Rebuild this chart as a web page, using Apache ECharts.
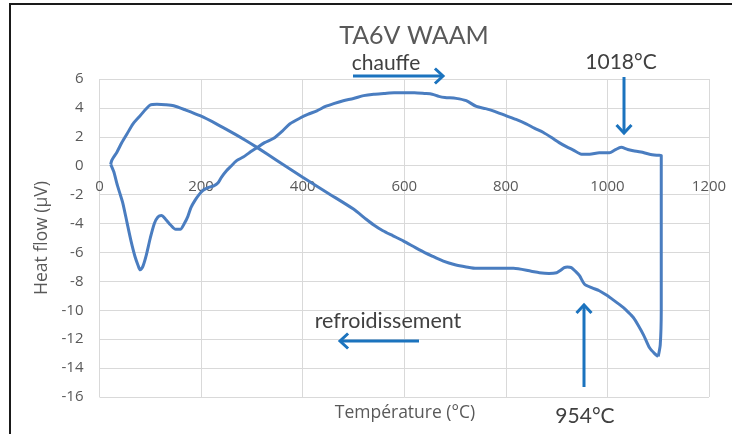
<!DOCTYPE html>
<html>
<head>
<meta charset="utf-8">
<script src="https://cdn.jsdelivr.net/npm/echarts@6/dist/echarts.min.js"></script>
<style>
  html, body { margin: 0; padding: 0; background: #fff; }
  #chart { width: 732px; height: 434px; }
</style>
</head>
<body>
<div id="chart"></div>
<script>
// DSC loop of a TA6V WAAM sample: heating run then cooling run
const heatT = [22, 28, 34, 40, 46, 54, 62, 70, 76, 80, 85, 92, 100, 108, 115, 122, 130, 140, 150, 159,
  167, 174, 180, 188, 196, 204, 215, 225, 233, 240, 250, 257, 270, 283, 295, 310, 325, 343, 360, 375,
  395, 410, 428, 445, 461, 480, 500, 520, 540, 560, 580, 600, 620, 640, 655, 668, 680, 702, 722, 742,
  760, 775, 801, 820, 840, 856, 874, 890, 905, 920, 932, 949, 965, 984, 1004, 1015, 1027, 1040, 1051,
  1066, 1083, 1100, 1106, 1106, 1104, 1100];
const heatV = [0.1, -0.4, -1.2, -1.9, -2.6, -3.9, -5.2, -6.3, -6.9, -7.2, -7.0, -6.2, -5.0, -4.0, -3.55,
  -3.45, -3.7, -4.1, -4.4, -4.4, -4.0, -3.5, -2.9, -2.4, -2.0, -1.7, -1.5, -1.4, -1.2, -0.8, -0.35,
  -0.1, 0.35, 0.6, 0.9, 1.25, 1.6, 1.9, 2.4, 2.9, 3.3, 3.55, 3.8, 4.1, 4.3, 4.5, 4.65, 4.85, 4.95,
  5.0, 5.05, 5.05, 5.05, 5.0, 4.95, 4.8, 4.72, 4.66, 4.5, 4.1, 3.95, 3.8, 3.45, 3.2, 2.9, 2.6, 2.3,
  1.95, 1.6, 1.3, 1.1, 0.8, 0.8, 0.9, 0.9, 1.1, 1.27, 1.12, 1.04, 0.95, 0.8, 0.72, 0.7, -10.0, -12.4, -13.2];

const coolT = [1100, 1093, 1083, 1071, 1060, 1051, 1040, 1031, 1012, 998, 984, 970, 955, 945, 937,
  929, 921, 915, 907, 900, 885, 866, 850, 815, 790, 760, 742, 722, 700, 677, 655, 629, 598, 578, 558,
  540, 525, 500, 450, 400, 350, 310, 288, 264, 230, 198, 170, 146, 130, 113, 100, 80, 66, 54, 44,
  34, 28, 24, 22];
const coolV = [-13.2, -13.0, -12.6, -11.7, -11.0, -10.5, -10.1, -9.8, -9.3, -8.95, -8.65, -8.45, -8.2,
  -7.6, -7.3, -7.05, -7.0, -7.05, -7.25, -7.4, -7.45, -7.4, -7.3, -7.1, -7.1, -7.1, -7.1, -7.0, -6.85,
  -6.6, -6.25, -5.8, -5.2, -4.85, -4.5, -4.1, -3.7, -3.0, -1.9, -0.8, 0.35, 1.27, 1.75, 2.24, 2.9, 3.46,
  3.85, 4.15, 4.22, 4.25, 4.2, 3.46, 2.9, 2.19, 1.6, 0.92, 0.6, 0.35, 0.1];

// axis ticks
const xTicks = [0, 200, 400, 600, 800, 1000, 1200];
const yTicks = [-16, -14, -12, -10, -8, -6, -4, -2, 0, 2, 4, 6];

const pairs = (xs, ys) => xs.map((x, i) => [x, ys[i]]);

const curveColor = '#4a7dc0';
const noteColor = '#1b73be';
const noteText = '#404040';
const tickColor = '#595959';

const chart = echarts.init(document.getElementById('chart'), null, { renderer: 'canvas' });

function arrow(x1, y1, x2, y2) {
  // shaft from (x1,y1) to the tip at (x2,y2), with an open chevron head
  const ang = Math.atan2(y2 - y1, x2 - x1);
  const L = 11, A = Math.PI / 4.2;
  const p1 = [x2 - L * Math.cos(ang - A), y2 - L * Math.sin(ang - A)];
  const p2 = [x2 - L * Math.cos(ang + A), y2 - L * Math.sin(ang + A)];
  return [
    { type: 'line', shape: { x1, y1, x2, y2 }, style: { stroke: noteColor, lineWidth: 3 }, z: 10 },
    { type: 'polyline', shape: { points: [p1, [x2, y2], p2] }, style: { stroke: noteColor, lineWidth: 3, fill: null, lineJoin: 'miter' }, z: 10 }
  ];
}

const label = (txt, x, y, size, color, family) => ({
  type: 'text', x, y, z: 10,
  style: { text: txt, font: `${size}px ${family || 'Lato'}`, fill: color, align: 'center', verticalAlign: 'middle' }
});

chart.setOption({
  animation: false,
  backgroundColor: '#fff',
  grid: { left: 99.5, right: 23, top: 79, bottom: 37, containLabel: false },
  xAxis: {
    type: 'value', min: xTicks[0], max: xTicks[xTicks.length - 1], interval: 200,
    axisLine: { show: true, onZero: false, lineStyle: { color: '#d9d9d9', width: 1 } },
    axisTick: { show: false },
    axisLabel: { color: tickColor, fontSize: 15, fontFamily: 'Open Sans', margin: 14, formatter: v => String(v) },
    splitLine: { show: true, lineStyle: { color: '#d9d9d9', width: 1 } }
  },
  yAxis: {
    type: 'value', min: yTicks[0], max: yTicks[yTicks.length - 1], interval: 2,
    name: 'Heat flow (µV)', nameLocation: 'middle', nameRotate: 90, nameGap: 48,
    nameTextStyle: { color: tickColor, fontSize: 17.5, fontFamily: 'Open Sans' },
    axisLine: { show: false, onZero: false },
    axisTick: { show: false },
    axisLabel: { color: tickColor, fontSize: 15, fontFamily: 'Open Sans', margin: 16 },
    splitLine: { show: true, lineStyle: { color: '#d9d9d9', width: 1 } }
  },
  series: [
    { name: 'chauffe', type: 'line', data: pairs(heatT, heatV), showSymbol: false, smooth: 0.25,
      lineStyle: { color: curveColor, width: 3 } },
    { name: 'refroidissement', type: 'line', data: pairs(coolT, coolV), showSymbol: false, smooth: 0.25,
      lineStyle: { color: curveColor, width: 3 } }
  ],
  graphic: [
    { type: 'rect', shape: { x: 10, y: 4, width: 760, height: 470 }, style: { stroke: '#1a1a1a', lineWidth: 2, fill: null }, z: 20 },
    label('TA6V WAAM', 414, 36, 25, '#595959'),
    label('chauffe', 386, 63, 21, noteText),
    ...arrow(353, 76, 443, 76),
    label('1018°C', 621, 62, 21, noteText),
    ...arrow(624, 77, 624, 133),
    label('refroidissement', 388, 321, 21.5, noteText),
    ...arrow(419, 341, 340, 341),
    label('954°C', 585, 416, 21, noteText),
    ...arrow(584, 387, 584, 305),
    label('Température (°C)', 405, 413, 17.5, '#595959', 'Open Sans')
  ]
});

// the temperature axis crosses the heat-flow axis at 0: shift it up from the bottom edge
const yZero = chart.convertToPixel({ yAxisIndex: 0 }, 0);
const yBottom = chart.convertToPixel({ yAxisIndex: 0 }, yTicks[0]);
chart.setOption({ xAxis: { offset: yZero - yBottom } });
</script>
</body>
</html>
